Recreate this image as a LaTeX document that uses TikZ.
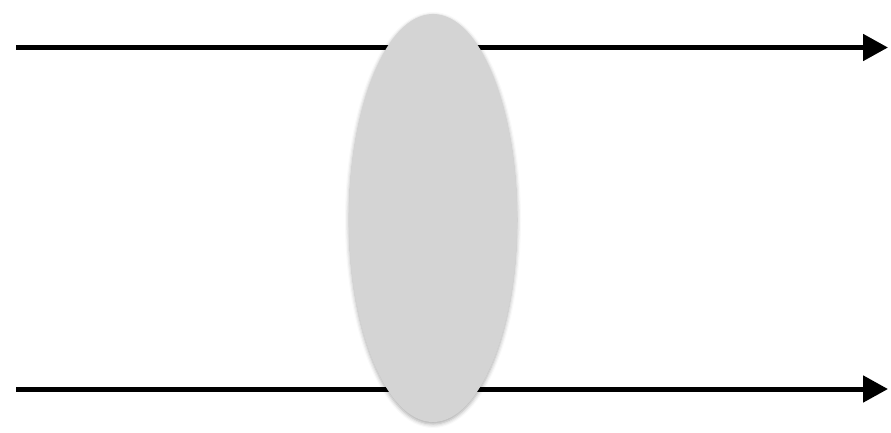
\documentclass[tikz,border=0pt]{standalone}
\usetikzlibrary{arrows.meta,shapes.geometric,shadows.blur}
\begin{document}
\begin{tikzpicture}[x=1pt,y=-1pt,
  ray/.style={line width=5pt,-{Triangle[length=25pt,width=26pt]}},
  lensshape/.style={ellipse,fill={rgb,255:red,212;green,212;blue,212},draw=none,minimum width=168pt,minimum height=408pt,inner sep=0pt,
    blur shadow={shadow xshift=0pt,shadow yshift=-2pt,shadow blur radius=4pt,shadow opacity=35}}]
\useasboundingbox (0,0) rectangle (891,432);
\coordinate (a1) at (16,47.5);
\coordinate (b1) at (888,47.5);
\coordinate (a2) at (16,389);
\coordinate (b2) at (888,389);
\draw[ray] (a1) -- (b1);
\draw[ray] (a2) -- (b2);
\node[lensshape] (lens) at (433,218) {};
\end{tikzpicture}
\end{document}
